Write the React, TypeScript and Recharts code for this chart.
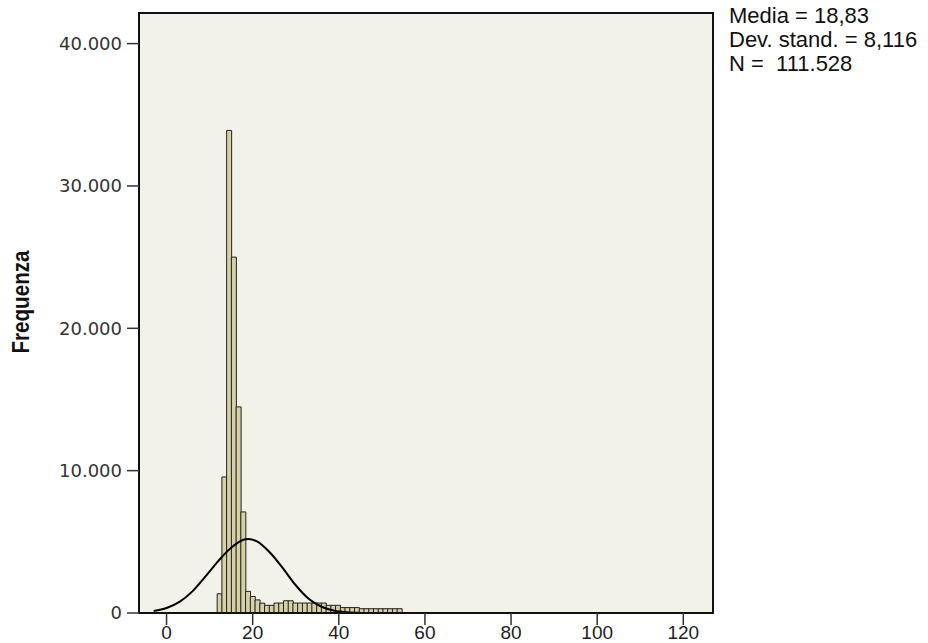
import React from 'react';
import { ComposedChart, Bar, Line, XAxis, YAxis, ReferenceArea } from 'recharts';

// bin centres (width about 1.1)
const binCenters = [
  12.3, 13.4, 14.5, 15.6, 16.7, 17.8, 18.9, 20.0, 21.1, 22.2,
  23.3, 24.4, 25.5, 26.6, 27.7, 28.8, 29.9, 31.0, 32.1, 33.2,
  34.3, 35.4, 36.5, 37.6, 38.7, 39.8, 40.9, 42.0, 43.1, 44.2,
  45.3, 46.4, 47.5, 48.6, 49.7, 50.8, 51.9, 53.0, 54.1,
];
const frequencies = [
  1350, 9560, 33900, 25000, 14480, 7100, 1520, 1160, 920, 690,
  540, 540, 700, 700, 860, 860, 700, 700, 700, 700,
  700, 700, 700, 540, 540, 540, 380, 380, 380, 380,
  300, 300, 300, 300, 300, 300, 300, 300, 300,
];

// normal curve
const curveX = [-3, 0, 3, 6, 9, 12, 15, 18, 19, 21, 24, 27, 30, 33, 36, 39, 42, 45];
const curveY = [140, 350, 780, 1520, 2550, 3650, 4580, 5160, 5200, 5030, 4250, 3150, 1950, 1000, 440, 160, 50, 10];

const xTicks = [0, 20, 40, 60, 80, 100, 120];
const yTicks = [0, 10000, 20000, 30000, 40000];
const X_DOMAIN: [number, number] = [-6.4, 126.9];
const Y_DOMAIN: [number, number] = [0, 42150];

const stats = ['Media = 18,83', 'Dev. stand. = 8,116', 'N =  111.528'];

const bins = binCenters.map((x, i) => ({ x, freq: frequencies[i] }));
const curve = curveX.map((x, i) => ({ x, y: curveY[i] }));

const fmtThousands = (v: number) => String(v).replace(/\B(?=(\d{3})+(?!\d))/g, '.');

const sans = '"Liberation Sans", Arial, sans-serif';

const FreqLabel = ({ viewBox }: any) => {
  const cy = viewBox.y + viewBox.height / 2 - 11;
  return (
    <text
      transform={`translate(21, ${cy}) rotate(-90) scale(0.86, 1)`}
      textAnchor="middle"
      dominantBaseline="central"
      fontFamily={sans}
      fontSize={24}
      fontWeight="bold"
      fill="#111"
    >
      Frequenza
    </text>
  );
};

export default function App() {
  return (
    <div style={{ position: 'absolute', left: 0, top: 0, width: 928, height: 643, background: '#fff' }}>
      <ComposedChart
        width={928}
        height={643}
        data={bins}
        margin={{ top: 13, right: 215, bottom: 0, left: 0 }}
        barCategoryGap={0}
        barGap={0}
      >
        <ReferenceArea
          x1={X_DOMAIN[0]}
          x2={X_DOMAIN[1]}
          y1={Y_DOMAIN[0]}
          y2={Y_DOMAIN[1]}
          fill="#f3f2ea"
          fillOpacity={1}
          stroke="#111"
          strokeWidth={2}
          ifOverflow="extendDomain"
        />
        <XAxis
          dataKey="x"
          type="number"
          domain={X_DOMAIN}
          allowDataOverflow
          ticks={xTicks}
          height={30}
          tickSize={12}
          tickMargin={1}
          axisLine={{ stroke: '#111', strokeWidth: 2 }}
          tickLine={{ stroke: '#333', strokeWidth: 1.5 }}
          tick={{ fill: '#222', fontSize: 19, fontFamily: sans }}
        />
        <XAxis xAxisId="curve" dataKey="x" type="number" domain={X_DOMAIN} allowDataOverflow hide />
        <YAxis
          type="number"
          domain={Y_DOMAIN}
          allowDataOverflow
          ticks={yTicks}
          width={139}
          tickSize={12}
          tickMargin={5}
          tickFormatter={fmtThousands}
          axisLine={{ stroke: '#111', strokeWidth: 2 }}
          tickLine={{ stroke: '#333', strokeWidth: 1.5 }}
          tick={{ fill: '#333', fontSize: 18, fontFamily: '"DejaVu Sans", sans-serif' }}
          label={<FreqLabel />}
        />
        <Bar
          dataKey="freq"
          fill="#d6d0a6"
          stroke="#222"
          strokeWidth={1}
          isAnimationActive={false}
        />
        <Line
          xAxisId="curve"
          data={curve}
          dataKey="y"
          type="monotone"
          stroke="#000"
          strokeWidth={2}
          dot={false}
          isAnimationActive={false}
        />
      </ComposedChart>
      <div
        style={{
          position: 'absolute',
          left: 729,
          top: 4,
          fontFamily: sans,
          fontSize: 22,
          lineHeight: '24px',
          color: '#111',
          whiteSpace: 'pre',
        }}
      >
        {stats.map(s => (
          <div key={s}>{s}</div>
        ))}
      </div>
    </div>
  );
}
